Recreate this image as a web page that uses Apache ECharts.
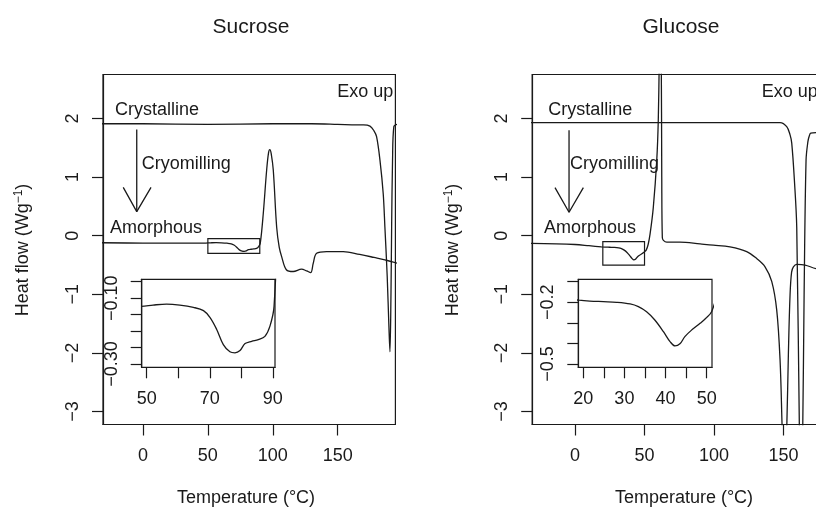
<!DOCTYPE html>
<html>
<head>
<meta charset="utf-8">
<script src="https://cdn.jsdelivr.net/npm/echarts@6/dist/echarts.min.js"></script>
<style>
html, body { margin: 0; padding: 0; background: #fff; }
#chart { width: 816px; height: 507px; }
</style>
</head>
<body>
<div id="chart"></div>
<script>
// --- data ---
var sucroseCrystT  = [-32, 0, 50, 100, 130, 150, 165, 170, 174.9, 178, 180, 182.6, 185.1, 186.4, 188.2, 189.5, 190.3, 191.1, 191.6, 192.3, 193.3, 196];
var sucroseCrystHF = [1.91, 1.91, 1.90, 1.91, 1.91, 1.90, 1.89, 1.89, 1.87, 1.79, 1.69, 1.29, 0.72, 0.15, -0.70, -1.55, -1.98, -0.98, 0.15, 1.29, 1.86, 1.90];

var sucroseAmorT  = [-32, 0, 20, 40, 48.3, 52, 56.3, 60.5, 64.8, 68, 70.1, 72.2, 74.3, 76.4, 78, 79.6, 81.2, 83.3, 85.4, 87.5, 89.1, 90.4, 92.7, 95.3, 96.8, 97.8, 98.8, 100.4, 103, 105, 106.9, 110.5, 115.8, 122.2, 126.1, 129.2, 131.2, 133.8, 141.5, 154.3, 167, 178, 186.4, 196];
var sucroseAmorHF = [-0.12, -0.125, -0.125, -0.125, -0.125, -0.121, -0.118, -0.121, -0.128, -0.138, -0.159, -0.195, -0.241, -0.263, -0.266, -0.259, -0.238, -0.231, -0.226, -0.216, -0.185, -0.125, 0.38, 1.12, 1.42, 1.47, 1.40, 1.12, 0.15, -0.20, -0.36, -0.58, -0.61, -0.57, -0.60, -0.63, -0.47, -0.30, -0.27, -0.27, -0.32, -0.37, -0.41, -0.47];

var glucoseCrystT  = [-32, 0, 50, 100, 140, 147.5, 152.3, 154.7, 155.9, 157.8, 159.5, 161.4, 162.6, 163.8, 164.8, 166.2, 167.5, 168.5, 169.6, 175, 196];
var glucoseCrystHF = [1.93, 1.93, 1.93, 1.93, 1.93, 1.93, 1.86, 1.72, 1.58, 0.95, 0.14, -3.3, -4.5, -3.3, -1.0, 1.29, 1.60, 1.70, 1.75, 1.76, 1.78];

var glucoseAmorT  = [-32, 0, 10, 19, 21.6, 24.9, 28.1, 31.4, 33.4, 35.4, 37.4, 39.5, 41.1, 42.3, 43.5, 44.7, 46.4, 48.4, 49.8, 51.2, 52.6, 54, 56.3, 58.8, 59.9, 60.6, 61.3, 62.0, 62.4, 62.8, 63.6, 66, 75.5, 90, 99.5, 111.5, 123.5, 130.7, 136.7, 141.5, 145.1, 147.5, 148.9, 150.5, 152.3, 153.5, 154.7, 155.8, 157.1, 159.5, 165.5, 173.4, 196];
var glucoseAmorHF = [-0.13, -0.15, -0.17, -0.19, -0.194, -0.197, -0.200, -0.208, -0.221, -0.246, -0.286, -0.343, -0.391, -0.412, -0.402, -0.367, -0.334, -0.302, -0.278, -0.246, -0.15, 0.03, 0.48, 1.29, 1.97, 3.0, 4.0, 3.2, 1.0, -0.03, -0.08, -0.11, -0.11, -0.14, -0.16, -0.19, -0.27, -0.39, -0.53, -0.78, -1.27, -2.12, -3.2, -4.5, -3.3, -2.0, -1.0, -0.62, -0.53, -0.49, -0.50, -0.56, -0.62];

// axis ticks / labels
var mainXTicks = [0, 50, 100, 150];
var mainYTicks = [-3, -2, -1, 0, 1, 2];
var sucInsetXTicks = [50, 60, 70, 80, 90];
var sucInsetXLabels = [50, 70, 90];
var sucInsetYTicks = [-0.05, -0.10, -0.15, -0.20, -0.25, -0.30];
var sucInsetYLabels = [-0.10, -0.30];
var gluInsetXTicks = [20, 25, 30, 35, 40, 45, 50];
var gluInsetXLabels = [20, 30, 40, 50];
var gluInsetYTicks = [-0.1, -0.2, -0.3, -0.4, -0.5];
var gluInsetYLabels = [-0.2, -0.5];

// zoom boxes drawn on the main plots [x1, y1, x2, y2]
var sucroseZoomBox = [50, -0.05, 90, -0.30];
var glucoseZoomBox = [20, -0.10, 50, -0.50];

// cryomilling arrows
var sucroseArrow = { x: -4.8, top: 1.81, tip: 0.41, headL: -15.2, headR: 6.2, headY: 0.825 };
var glucoseArrow = { x: -4.3, top: 1.80, tip: 0.40, headL: -14.4, headR: 6.0, headY: 0.82 };

var FONT = '"Liberation Sans", Arial, Helvetica, sans-serif';
var INK = '#1a1a1a';
var LW = 1.3;

function pairs(t, h) {
  return t.map(function (v, i) { return [v, h[i]]; });
}
function minus(s) { return String(s).replace('-', '\u2212'); }

function axis(grid, min, max, ticks, labels, fmt, isY) {
  return {
    type: 'value', gridIndex: grid, min: min, max: max,
    axisLine: { show: true, onZero: false, lineStyle: { color: INK, width: 1.2 } },
    axisTick: { show: true, inside: false, length: 11, customValues: ticks, lineStyle: { color: INK, width: 1.2 } },
    axisLabel: {
      show: true, customValues: labels, formatter: fmt,
      fontSize: 18, fontFamily: FONT, color: INK,
      margin: isY ? 21 : 23, rotate: isY ? 90 : 0
    },
    splitLine: { show: false }
  };
}

function trace(idx, data) {
  return {
    type: 'line', xAxisIndex: idx, yAxisIndex: idx, data: data,
    symbol: 'none', smooth: 0.35, clip: true, silent: true,
    lineStyle: { color: INK, width: LW }, z: 3
  };
}

function plain(idx, data) {
  return {
    type: 'line', xAxisIndex: idx, yAxisIndex: idx, data: data,
    symbol: 'none', smooth: false, clip: true, silent: true,
    lineStyle: { color: INK, width: LW }, z: 3
  };
}

function boxed(s, b) {
  s.markArea = {
    silent: true,
    itemStyle: { color: 'rgba(0,0,0,0)', borderColor: INK, borderWidth: 1.2 },
    data: [[{ xAxis: b[0], yAxis: b[1] }, { xAxis: b[2], yAxis: b[3] }]]
  };
  return s;
}

function arrowSeries(idx, a) {
  return [
    plain(idx, [[a.x, a.top], [a.x, a.tip]]),
    plain(idx, [[a.headL, a.headY], [a.x, a.tip], [a.headR, a.headY]])
  ];
}

function txt(x, y, s, opts) {
  opts = opts || {};
  return {
    type: 'text', x: x, y: y, rotation: opts.rot || 0, z: 100,
    style: {
      text: s, fill: INK, font: (opts.size || 18) + 'px ' + FONT,
      fontSize: opts.size || 18, fontFamily: FONT,
      textAlign: opts.align || 'left', align: opts.align || 'left',
      textVerticalAlign: 'middle', verticalAlign: 'middle',
      rich: opts.rich
    }
  };
}

var yTitleRich = {
  a: { fontSize: 18, fontFamily: FONT, color: INK, lineHeight: 22 },
  s: { fontSize: 12, fontFamily: FONT, color: INK, lineHeight: 12, verticalAlign: 'top' }
};
var yTitle = '{a|Heat flow (Wg}{s|\u22121}{a|)}';

function gridBox(left, top, width, height, bg) {
  return {
    left: left, top: top, width: width, height: height,
    show: true, borderColor: INK, borderWidth: 1.2,
    backgroundColor: bg || 'transparent',
    containLabel: false, outerBoundsMode: 'none'
  };
}

var chart = echarts.init(document.getElementById('chart'));
var option = {
  animation: false,
  backgroundColor: '#fff',
  grid: [
    gridBox(103, 74.5, 292.4, 350),
    gridBox(532.2, 74.5, 313.2, 350),
    gridBox(141.7, 279.3, 133.3, 88, '#fff'),
    gridBox(578.3, 279.3, 133.7, 88, '#fff')
  ],
  xAxis: [
    axis(0, -30.8, 194.5, mainXTicks, mainXTicks, null, false),
    axis(1, -30.8, 194.5, mainXTicks, mainXTicks, null, false),
    axis(2, 48.4, 90.7, sucInsetXTicks, sucInsetXLabels, null, false),
    axis(3, 18.8, 51.3, gluInsetXTicks, gluInsetXLabels, null, false)
  ],
  yAxis: [
    axis(0, -3.22, 2.75, mainYTicks, mainYTicks, minus, true),
    axis(1, -3.22, 2.75, mainYTicks, mainYTicks, minus, true),
    axis(2, -0.310, -0.0427, sucInsetYTicks, sucInsetYLabels, function (v) { return minus(v.toFixed(2)); }, true),
    axis(3, -0.516, -0.0883, gluInsetYTicks, gluInsetYLabels, function (v) { return minus(v.toFixed(1)); }, true)
  ],
  series: [
    trace(0, pairs(sucroseCrystT, sucroseCrystHF)),
    boxed(trace(0, pairs(sucroseAmorT, sucroseAmorHF)), sucroseZoomBox),
    trace(1, pairs(glucoseCrystT, glucoseCrystHF)),
    boxed(trace(1, pairs(glucoseAmorT, glucoseAmorHF)), glucoseZoomBox),
    trace(2, pairs(sucroseAmorT, sucroseAmorHF)),
    trace(3, pairs(glucoseAmorT, glucoseAmorHF))
  ].concat(arrowSeries(0, sucroseArrow), arrowSeries(1, glucoseArrow)),
  graphic: [
    txt(251, 27.5, 'Sucrose', { size: 21, align: 'center' }),
    txt(681, 27.5, 'Glucose', { size: 21, align: 'center' }),
    txt(246, 498, 'Temperature (\u00B0C)', { align: 'center' }),
    txt(684, 498, 'Temperature (\u00B0C)', { align: 'center' }),
    txt(23.5, 250, yTitle, { align: 'center', rot: Math.PI / 2, rich: yTitleRich }),
    txt(453.5, 250, yTitle, { align: 'center', rot: Math.PI / 2, rich: yTitleRich }),
    txt(115, 110, 'Crystalline'),
    txt(141.7, 164, 'Cryomilling'),
    txt(110, 228.3, 'Amorphous'),
    txt(393.3, 91.7, 'Exo up', { align: 'right' }),
    txt(548.3, 110, 'Crystalline'),
    txt(570, 164, 'Cryomilling'),
    txt(544, 228.3, 'Amorphous'),
    txt(761.7, 91.7, 'Exo up')
  ]
};
chart.setOption(option);
</script>
</body>
</html>
